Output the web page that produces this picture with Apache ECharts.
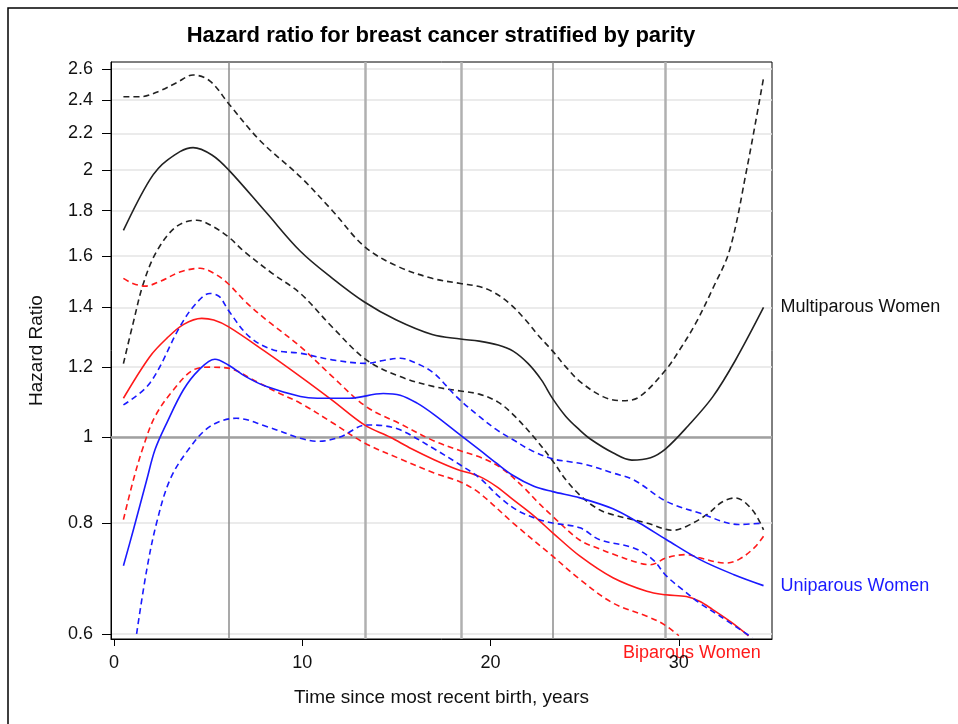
<!DOCTYPE html>
<html>
<head>
<meta charset="utf-8">
<script src="https://cdn.jsdelivr.net/npm/echarts@6/dist/echarts.min.js"></script>
<style>
  html, body { margin: 0; background: #fff; }
  #chart { width: 958px; height: 724px; }
</style>
</head>
<body>
<div id="chart"></div>
<script>
// hazard ratio curves, [years since birth, HR]
const multiEst = [[0.5,1.71],[1.9,1.95],[2.8,2.05],[4.2,2.12],[5.2,2.08],[6.1,2.0],[8.1,1.79],[9.9,1.62],[11.6,1.51],[13.3,1.42],[15.0,1.355],[16.9,1.305],[18.4,1.29],[19.4,1.283],[20.4,1.27],[21.2,1.25],[22.0,1.21],[22.7,1.16],[23.3,1.105],[24.0,1.055],[24.7,1.02],[25.3,0.995],[26.5,0.96],[27.5,0.942],[28.5,0.948],[29.3,0.97],[30.5,1.03],[31.8,1.11],[33.0,1.22],[34.5,1.40]]
const multiHi = [[0.5,2.42],[1.4,2.42],[2.44,2.457],[3.33,2.51],[4.2,2.56],[5.1,2.52],[6.1,2.375],[7.75,2.16],[9.9,1.965],[11.6,1.80],[13.3,1.64],[15.0,1.56],[16.9,1.51],[18.4,1.49],[19.4,1.478],[20.2,1.455],[21.0,1.415],[21.8,1.36],[22.5,1.305],[23.3,1.25],[24.0,1.20],[24.75,1.155],[26.0,1.11],[27.0,1.099],[27.9,1.11],[29.3,1.19],[30.0,1.25],[30.9,1.344],[31.8,1.47],[32.7,1.625],[33.6,2.0],[34.5,2.54]]
const multiLo = [[0.5,1.21],[1.0,1.34],[1.56,1.49],[2.27,1.62],[3.3,1.726],[4.4,1.756],[5.2,1.73],[6.1,1.68],[6.9,1.62],[8.4,1.53],[9.9,1.452],[11.6,1.33],[13.4,1.222],[15.2,1.17],[17.0,1.14],[18.4,1.127],[19.4,1.118],[20.4,1.095],[21.2,1.06],[22.3,1.0],[23.3,0.94],[24.0,0.895],[24.75,0.86],[25.5,0.835],[26.2,0.821],[28.3,0.80],[29.7,0.785],[30.4,0.793],[31.5,0.818],[32.3,0.845],[33.0,0.854],[33.9,0.828],[34.5,0.786]]

const biEst = [[0.5,1.106],[1.9,1.232],[2.8,1.292],[3.7,1.34],[4.66,1.361],[5.3,1.355],[6.07,1.332],[8.0,1.25],[9.9,1.17],[11.6,1.10],[13.3,1.032],[14.65,1.0],[15.8,0.97],[17.0,0.943],[18.2,0.92],[19.4,0.903],[20.3,0.88],[21.2,0.85],[22.3,0.815],[23.3,0.78],[24.75,0.734],[26.5,0.694],[28.3,0.67],[29.3,0.664],[30.4,0.661],[31.1,0.653],[31.8,0.639],[32.8,0.618],[33.7,0.597]]
const biHi = [[0.5,1.51],[1.0,1.49],[1.65,1.48],[2.5,1.50],[3.5,1.535],[4.57,1.55],[5.3,1.53],[6.05,1.49],[7.0,1.42],[8.1,1.355],[9.9,1.265],[11.6,1.17],[13.4,1.082],[15.2,1.035],[17.0,0.99],[18.4,0.965],[19.4,0.95],[20.5,0.925],[21.7,0.88],[22.5,0.845],[23.3,0.814],[24.75,0.765],[25.8,0.748],[26.5,0.738],[27.9,0.721],[28.5,0.718],[29.35,0.731],[30.4,0.737],[31.1,0.731],[32.5,0.721],[33.2,0.728],[34.0,0.75],[34.5,0.773]]
const biLo = [[0.5,0.807],[1.03,0.895],[1.56,0.976],[2.18,1.055],[3.15,1.13],[4.2,1.19],[5.1,1.199],[6.07,1.196],[7.4,1.16],[8.6,1.125],[9.9,1.092],[11.6,1.038],[13.3,0.985],[15.2,0.945],[17.0,0.911],[18.4,0.89],[19.4,0.865],[21.2,0.80],[23.3,0.734],[24.75,0.691],[26.5,0.65],[28.3,0.628],[29.2,0.615],[30.0,0.597]]

const uniEst = [[0.5,0.716],[1.03,0.786],[1.74,0.895],[2.18,0.968],[2.8,1.037],[3.68,1.13],[4.5,1.19],[5.36,1.224],[6.07,1.206],[7.0,1.17],[8.1,1.14],[9.9,1.111],[10.8,1.106],[12.5,1.106],[14.3,1.12],[15.2,1.115],[16.1,1.092],[17.0,1.06],[18.4,1.005],[19.4,0.968],[20.3,0.935],[21.2,0.905],[22.3,0.88],[23.3,0.868],[24.75,0.854],[26.5,0.83],[27.9,0.80],[29.35,0.766],[31.1,0.728],[32.9,0.70],[34.5,0.68]]
const uniHi = [[0.5,1.087],[1.9,1.15],[3.5,1.332],[4.3,1.41],[5.1,1.452],[5.6,1.44],[6.07,1.39],[7.2,1.297],[8.46,1.254],[9.9,1.243],[11.6,1.222],[13.4,1.211],[14.3,1.22],[15.2,1.227],[16.1,1.21],[17.0,1.18],[18.2,1.11],[19.4,1.055],[20.3,1.02],[21.2,0.993],[22.2,0.965],[23.3,0.945],[24.2,0.938],[25.0,0.932],[26.5,0.911],[27.6,0.895],[29.35,0.846],[31.1,0.821],[33.2,0.797],[34.5,0.80]]
const uniLo = [[1.2,0.60],[1.74,0.709],[2.26,0.80],[2.97,0.895],[3.95,0.968],[5.1,1.028],[6.5,1.05],[8.1,1.028],[9.9,0.997],[10.8,0.989],[12.0,1.0],[13.4,1.032],[14.3,1.03],[15.2,1.019],[17.0,0.97],[18.4,0.93],[19.4,0.90],[20.5,0.855],[21.5,0.825],[22.6,0.807],[23.3,0.80],[24.75,0.79],[25.8,0.766],[27.6,0.75],[28.6,0.728],[29.35,0.697],[30.2,0.673],[31.1,0.65],[32.2,0.628],[33.9,0.594]]

const knots = [6.1, 13.33, 18.43, 23.33, 29.3]
const refLine = 1
const hrTicks = [0.6, 0.8, 1, 1.2, 1.4, 1.6, 1.8, 2, 2.2, 2.4, 2.6]
const xTicks = [0, 10, 20, 30]

const FONT = '"Liberation Sans", Arial, sans-serif'
const BLACK = '#222222'
const RED = '#ff1a1a'
const BLUE = '#1a1aff'

const toLog = pts => pts.map(([x, v]) => [x, Math.log(v)])

function curve(name, pts, color, dashed, extra) {
  return Object.assign({
    name,
    type: 'line',
    data: toLog(pts),
    showSymbol: false,
    smooth: 0.35,
    silent: true,
    lineStyle: { color, width: 1.6, type: dashed ? [6, 4] : 'solid' }
  }, extra || {})
}

const chart = echarts.init(document.getElementById('chart'))
chart.setOption({
  animation: false,
  title: {
    text: 'Hazard ratio for breast cancer stratified by parity',
    left: 441, top: 25, padding: 0, textAlign: 'center',
    textStyle: { fontFamily: FONT, fontSize: 22, fontWeight: 'bold', color: '#000' }
  },
  grid: { left: 111, right: 186, top: 62, bottom: 85, show: true, borderColor: '#000', borderWidth: 1 },
  xAxis: {
    type: 'value', min: -0.16, max: 34.95,
    name: 'Time since most recent birth, years', nameLocation: 'middle', nameGap: 49,
    nameTextStyle: { fontFamily: FONT, fontSize: 19, color: '#111' },
    axisLine: { onZero: false, lineStyle: { color: '#000', width: 1 } },
    axisTick: { customValues: xTicks, length: 7, lineStyle: { color: '#000' } },
    axisLabel: { customValues: xTicks, margin: 15, fontFamily: FONT, fontSize: 18, color: '#111' },
    splitLine: { show: false }
  },
  yAxis: {
    type: 'value', min: Math.log(0.592), max: Math.log(2.648),
    name: 'Hazard Ratio', nameLocation: 'middle', nameGap: 65, nameRotate: 90,
    nameTextStyle: { fontFamily: FONT, fontSize: 19, color: '#111' },
    axisLine: { show: true, onZero: false, lineStyle: { color: '#000', width: 1 } },
    axisTick: { customValues: hrTicks.map(Math.log), length: 9, lineStyle: { color: '#000' } },
    axisLabel: {
      customValues: hrTicks.map(Math.log), margin: 18, fontFamily: FONT, fontSize: 18, color: '#111',
      formatter: v => String(Math.round(Math.exp(v) * 10) / 10)
    },
    splitLine: { show: true, lineStyle: { color: '#e4e4e4', width: 1.5 } }
  },
  graphic: [
    { type: 'rect', shape: { x: 8, y: 8, width: 1000, height: 1000 }, style: { fill: 'none', stroke: '#000', lineWidth: 1.5 }, silent: true },
    { type: 'text', left: 623, top: 644, style: { text: 'Biparous Women', fill: '#ff1a1a', font: '18px ' + FONT } }
  ],
  series: [
    curve('Multiparous Women', multiEst, BLACK, false, {
      endLabel: { show: true, formatter: 'Multiparous Women', distance: 17, color: '#111', fontFamily: FONT, fontSize: 18 },
      markLine: {
        silent: true, symbol: 'none', z: 1,
        label: { show: false },
        data: knots.map((k, i) => ({
          xAxis: k,
          lineStyle: { color: i % 3 === 0 ? '#8c8c8c' : '#b0b0b0', width: i % 3 === 0 ? 1.5 : 2.5, type: 'solid' }
        })).concat([{ yAxis: Math.log(refLine), lineStyle: { color: '#a0a0a0', width: 2.5, type: 'solid' } }])
      }
    }),
    curve('multiHi', multiHi, BLACK, true),
    curve('multiLo', multiLo, BLACK, true),
    curve('Biparous Women', biEst, RED, false),
    curve('biHi', biHi, RED, true),
    curve('biLo', biLo, RED, true),
    curve('Uniparous Women', uniEst, BLUE, false, {
      endLabel: { show: true, formatter: 'Uniparous Women', distance: 17, color: '#1a1aff', fontFamily: FONT, fontSize: 18 }
    }),
    curve('uniHi', uniHi, BLUE, true),
    curve('uniLo', uniLo, BLUE, true)
  ]
})
</script>
</body>
</html>
